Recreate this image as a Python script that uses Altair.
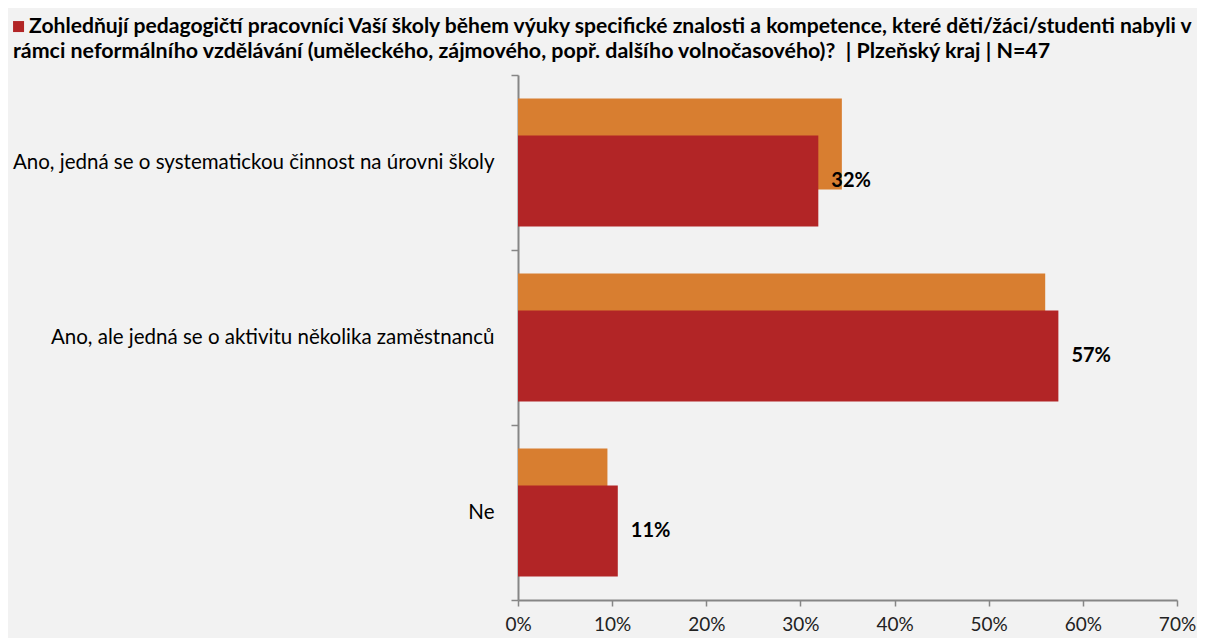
import altair as alt
import pandas as pd

categories = [
    "Ano, jedná se o systematickou činnost na úrovni školy",
    "Ano, ale jedná se o aktivitu několika zaměstnanců",
    "Ne",
]
kraj_values = [0.319, 0.574, 0.106]      # Plzeňský kraj (red, labelled)
celkem_values = [0.344, 0.560, 0.095]    # comparison series (orange)
x_ticks = [0, 0.1, 0.2, 0.3, 0.4, 0.5, 0.6, 0.7]
# legend entry of the red series (first line of the question) and the rest of it
series_name = "Zohledňují pedagogičtí pracovníci Vaší školy během výuky specifické znalosti a kompetence, které děti/žáci/studenti nabyli v"
title_rest = "rámci neformálního vzdělávání (uměleckého, zájmového, popř. dalšího volnočasového)?\u00a0 | Plzeňský kraj | N=47"

RED = "#B22526"
ORANGE = "#D87E30"
AXIS = "#868686"
FONT = "Lato"

df_kraj = pd.DataFrame({"category": categories, "value": kraj_values, "series": series_name})
df_celkem = pd.DataFrame({"category": categories, "value": celkem_values})

y_enc = alt.Y(
    "category:N",
    sort=categories,
    scale=alt.Scale(paddingInner=0, paddingOuter=0),
    axis=alt.Axis(
        title=None,
        tickBand="extent",
        tickSize=7,
        tickColor=AXIS,
        tickWidth=1.5,
        domainColor=AXIS,
        domainWidth=2,
        labelFont=FONT,
        labelFontSize=20.5,
        labelColor="#000000",
        labelPadding=17,
        labelLimit=600,
    ),
)
x_enc = alt.X(
    "value:Q",
    scale=alt.Scale(domain=[0, 0.7], nice=False),
    axis=alt.Axis(
        title=None,
        values=x_ticks,
        format=".0%",
        grid=False,
        tickSize=6,
        tickColor=AXIS,
        tickWidth=1.5,
        domainColor=AXIS,
        domainWidth=2,
        labelFont=FONT,
        labelFontSize=19,
        labelColor="#222222",
        labelPadding=9,
        labelFlush=False,
    ),
)

orange = alt.Chart(df_celkem).mark_bar(height=91, yOffset=-18.5, color=ORANGE).encode(
    x=x_enc, y=y_enc
)
red = alt.Chart(df_kraj).mark_bar(height=91, yOffset=18.5).encode(
    x=x_enc,
    y=y_enc,
    color=alt.Color(
        "series:N",
        scale=alt.Scale(domain=[series_name], range=[RED]),
        legend=alt.Legend(
            orient="none",
            legendX=-510,
            legendY=-59,
            title=None,
            symbolType="square",
            symbolSize=121,
            symbolStrokeWidth=0,
            symbolOpacity=1,
            labelFont=FONT,
            labelFontSize=21.1,
            labelFontWeight="bold",
            labelColor="#000000",
            labelOffset=0,
            labelLimit=1300,
        ),
    ),
)
labels = alt.Chart(df_kraj).mark_text(
    align="left", baseline="middle", dx=13, yOffset=18.5,
    font=FONT, fontSize=20, fontWeight="bold", color="#000000",
).encode(x=x_enc, y=y_enc, text=alt.Text("value:Q", format=".0%"))

chart = (
    alt.layer(orange, red, labels)
    .properties(
        width=659,
        height=525,
        padding={"left": 510, "top": 67, "right": 20, "bottom": 38},
        autosize=alt.AutoSizeParams(type="none"),
        title=alt.TitleParams(
            text=title_rest,
            anchor="start",
            frame="group",
            dx=-505,
            dy=64,
            offset=18,
            font=FONT,
            fontSize=21.4,
            fontWeight="bold",
            color="#000000",
        ),
    )
    .configure(background="#f2f2f2")
    .configure_view(stroke=None)
)

chart.save("out.html", embed_options={"renderer": "svg", "actions": False})
